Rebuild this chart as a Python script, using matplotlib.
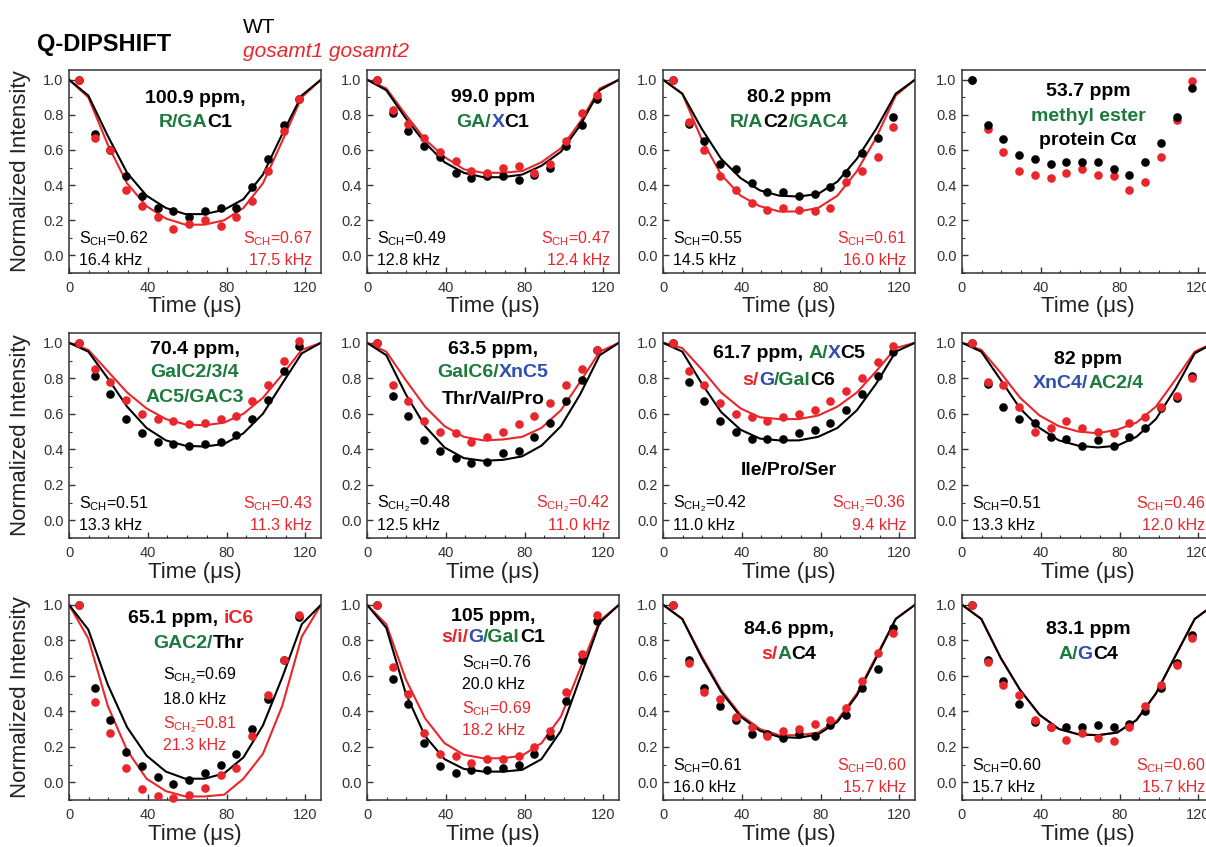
import matplotlib
matplotlib.use('Agg')
import matplotlib.pyplot as plt
from matplotlib.ticker import MultipleLocator, FixedLocator, FormatStrFormatter
from matplotlib.offsetbox import TextArea, HPacker, AnnotationBbox, DrawingArea

plt.rcParams['font.family'] = ['Liberation Sans', 'DejaVu Sans']
plt.rcParams['mathtext.default'] = 'regular'

K = '#000000'
R = '#e8262b'
G = '#1b7a3c'
B = '#2f4eb0'

# time points (us) of the measured data and of the fitted curves
t_pts = [5, 13, 21, 29, 37, 45, 53, 61, 69, 77, 85, 93, 101, 109, 117]
t_fit = [0, 9.8, 19.7, 29.5, 39.4, 49.2, 59.1, 68.9, 78.8, 88.6, 98.5, 108.3, 118.2, 128]

# 100.9 ppm
wt_1009 = [1.00, 0.69, 0.60, 0.45, 0.34, 0.27, 0.25, 0.22, 0.25, 0.27, 0.27, 0.39, 0.55, 0.74, 0.89]
mut_1009 = [1.00, 0.67, 0.60, 0.37, 0.28, 0.22, 0.15, 0.18, 0.20, 0.17, 0.22, 0.31, 0.48, 0.71, 0.89]
wt_fit_1009 = [1.00, 0.91, 0.68, 0.47, 0.34, 0.27, 0.235, 0.235, 0.26, 0.32, 0.46, 0.69, 0.91, 1.00]
mut_fit_1009 = [1.00, 0.90, 0.63, 0.41, 0.28, 0.21, 0.175, 0.175, 0.20, 0.27, 0.41, 0.65, 0.90, 1.00]

# 99.0 ppm
wt_990 = [1.00, 0.81, 0.71, 0.62, 0.56, 0.47, 0.44, 0.45, 0.45, 0.43, 0.46, 0.50, 0.62, 0.74, 0.89]
mut_990 = [1.00, 0.83, 0.75, 0.67, 0.59, 0.54, 0.48, 0.47, 0.50, 0.51, 0.47, 0.52, 0.65, 0.81, 0.91]
wt_fit_990 = [1.00, 0.94, 0.78, 0.64, 0.53, 0.47, 0.445, 0.445, 0.46, 0.51, 0.59, 0.74, 0.94, 1.00]
mut_fit_990 = [1.00, 0.95, 0.80, 0.66, 0.56, 0.49, 0.47, 0.47, 0.48, 0.53, 0.61, 0.76, 0.95, 1.00]

# 80.2 ppm
wt_802 = [1.00, 0.75, 0.65, 0.52, 0.49, 0.41, 0.36, 0.36, 0.34, 0.35, 0.39, 0.47, 0.58, 0.67, 0.79]
mut_802 = [1.00, 0.76, 0.60, 0.45, 0.37, 0.30, 0.26, 0.27, 0.26, 0.25, 0.27, 0.42, 0.48, 0.56, 0.73]
wt_fit_802 = [1.00, 0.92, 0.72, 0.55, 0.44, 0.37, 0.34, 0.335, 0.35, 0.42, 0.55, 0.72, 0.92, 1.00]
mut_fit_802 = [1.00, 0.92, 0.66, 0.46, 0.34, 0.28, 0.25, 0.25, 0.27, 0.34, 0.48, 0.67, 0.91, 1.00]

# 53.7 ppm (no fit)
wt_537 = [1.00, 0.74, 0.66, 0.57, 0.55, 0.52, 0.53, 0.53, 0.53, 0.49, 0.46, 0.53, 0.64, 0.79, 0.95]
mut_537 = [1.00, 0.72, 0.59, 0.48, 0.46, 0.44, 0.47, 0.49, 0.46, 0.45, 0.37, 0.42, 0.56, 0.77, 0.99]

# 70.4 ppm
wt_704 = [1.00, 0.81, 0.71, 0.57, 0.49, 0.44, 0.43, 0.42, 0.43, 0.44, 0.48, 0.57, 0.68, 0.84, 0.98]
mut_704 = [1.00, 0.85, 0.78, 0.68, 0.60, 0.57, 0.56, 0.54, 0.55, 0.57, 0.59, 0.67, 0.76, 0.90, 1.01]
wt_fit_704 = [1.00, 0.95, 0.80, 0.64, 0.52, 0.45, 0.42, 0.415, 0.43, 0.49, 0.60, 0.77, 0.94, 1.00]
mut_fit_704 = [1.00, 0.96, 0.84, 0.72, 0.63, 0.57, 0.54, 0.535, 0.55, 0.60, 0.69, 0.82, 0.96, 1.00]

# 63.5 ppm
wt_635 = [1.00, 0.70, 0.59, 0.45, 0.39, 0.35, 0.32, 0.33, 0.38, 0.39, 0.47, 0.55, 0.67, 0.79, 0.96]
mut_635 = [1.00, 0.76, 0.67, 0.56, 0.50, 0.49, 0.44, 0.47, 0.50, 0.54, 0.59, 0.66, 0.76, 0.85, 0.96]
wt_fit_635 = [1.00, 0.93, 0.71, 0.53, 0.41, 0.35, 0.335, 0.34, 0.36, 0.42, 0.53, 0.71, 0.93, 1.00]
mut_fit_635 = [1.00, 0.95, 0.79, 0.64, 0.53, 0.47, 0.45, 0.455, 0.47, 0.52, 0.62, 0.78, 0.95, 1.00]

# 61.7 ppm
wt_617 = [1.00, 0.78, 0.67, 0.56, 0.50, 0.46, 0.46, 0.46, 0.49, 0.51, 0.55, 0.62, 0.71, 0.81, 0.95]
mut_617 = [1.00, 0.84, 0.76, 0.66, 0.60, 0.58, 0.56, 0.58, 0.60, 0.62, 0.67, 0.73, 0.80, 0.89, 0.98]
wt_fit_617 = [1.00, 0.95, 0.77, 0.61, 0.51, 0.46, 0.45, 0.45, 0.47, 0.52, 0.62, 0.77, 0.95, 1.00]
mut_fit_617 = [1.00, 0.97, 0.85, 0.72, 0.63, 0.58, 0.57, 0.57, 0.59, 0.64, 0.72, 0.84, 0.97, 1.00]

# 82 ppm
wt_82 = [1.00, 0.77, 0.64, 0.57, 0.55, 0.47, 0.46, 0.42, 0.45, 0.42, 0.47, 0.52, 0.63, 0.69, 0.81]
mut_82 = [1.00, 0.78, 0.76, 0.64, 0.50, 0.52, 0.56, 0.52, 0.50, 0.49, 0.55, 0.58, 0.64, 0.70, 0.80]
wt_fit_82 = [1.00, 0.95, 0.79, 0.63, 0.52, 0.45, 0.42, 0.41, 0.42, 0.47, 0.57, 0.74, 0.94, 1.00]
mut_fit_82 = [1.00, 0.96, 0.83, 0.69, 0.59, 0.53, 0.50, 0.49, 0.51, 0.55, 0.64, 0.79, 0.95, 1.00]

# 65.1 ppm
wt_651 = [1.00, 0.53, 0.35, 0.17, 0.09, 0.03, -0.01, 0.01, 0.05, 0.10, 0.16, 0.30, 0.47, 0.69, 0.93]
mut_651 = [1.00, 0.45, 0.28, 0.08, -0.04, -0.08, -0.09, -0.07, -0.03, 0.04, 0.08, 0.26, 0.49, 0.69, 0.94]
wt_fit_651 = [1.00, 0.86, 0.55, 0.31, 0.15, 0.06, 0.02, 0.02, 0.05, 0.14, 0.32, 0.59, 0.89, 1.00]
mut_fit_651 = [1.00, 0.81, 0.43, 0.18, 0.02, -0.05, -0.08, -0.08, -0.07, 0.02, 0.16, 0.43, 0.82, 1.00]

# 105 ppm
wt_105 = [1.00, 0.58, 0.44, 0.22, 0.09, 0.05, 0.07, 0.07, 0.08, 0.10, 0.16, 0.26, 0.46, 0.69, 0.91]
mut_105 = [1.00, 0.65, 0.50, 0.28, 0.16, 0.15, 0.11, 0.13, 0.13, 0.15, 0.20, 0.29, 0.51, 0.72, 0.94]
wt_fit_105 = [1.00, 0.87, 0.50, 0.26, 0.13, 0.075, 0.06, 0.06, 0.07, 0.13, 0.29, 0.59, 0.90, 1.00]
mut_fit_105 = [1.00, 0.89, 0.58, 0.36, 0.22, 0.155, 0.135, 0.135, 0.15, 0.22, 0.37, 0.64, 0.91, 1.00]

# 84.6 ppm
wt_846 = [1.00, 0.69, 0.53, 0.43, 0.35, 0.27, 0.27, 0.25, 0.27, 0.26, 0.32, 0.38, 0.53, 0.64, 0.87]
mut_846 = [1.00, 0.67, 0.51, 0.47, 0.37, 0.31, 0.26, 0.29, 0.30, 0.33, 0.35, 0.42, 0.57, 0.73, 0.84]
wt_fit_846 = [1.00, 0.92, 0.70, 0.51, 0.37, 0.29, 0.255, 0.25, 0.27, 0.34, 0.49, 0.70, 0.92, 1.00]
mut_fit_846 = [1.00, 0.92, 0.71, 0.52, 0.38, 0.30, 0.265, 0.265, 0.28, 0.35, 0.50, 0.71, 0.92, 1.00]

# 83.1 ppm
wt_831 = [1.00, 0.69, 0.57, 0.44, 0.34, 0.31, 0.31, 0.31, 0.32, 0.31, 0.33, 0.40, 0.53, 0.67, 0.83]
mut_831 = [1.00, 0.68, 0.55, 0.49, 0.35, 0.31, 0.24, 0.28, 0.25, 0.23, 0.31, 0.43, 0.55, 0.66, 0.81]
wt_fit_831 = [1.00, 0.92, 0.70, 0.52, 0.38, 0.30, 0.27, 0.265, 0.28, 0.35, 0.50, 0.71, 0.92, 1.00]
mut_fit_831 = [1.00, 0.92, 0.70, 0.52, 0.38, 0.30, 0.27, 0.265, 0.28, 0.35, 0.50, 0.71, 0.92, 1.00]

CH = 'S$_{CH}$'
CH2 = 'S$_{CH_2}$'

panels = [
    dict(wt=wt_1009, mut=mut_1009, wt_fit=wt_fit_1009, mut_fit=mut_fit_1009,
         title=[[('100.9 ppm,', K)], [('R/GA', G), ('C1', K)]], ty=[0.895, 0.757],
         stats=((CH + '=0.62', '16.4 kHz'), (CH + '=0.67', '17.5 kHz'))),
    dict(wt=wt_990, mut=mut_990, wt_fit=wt_fit_990, mut_fit=mut_fit_990,
         title=[[('99.0 ppm', K)], [('GA/', G), ('X', B), ('C1', K)]], ty=[0.897, 0.757],
         stats=((CH + '=0.49', '12.8 kHz'), (CH + '=0.47', '12.4 kHz'))),
    dict(wt=wt_802, mut=mut_802, wt_fit=wt_fit_802, mut_fit=mut_fit_802,
         title=[[('80.2 ppm', K)], [('R/A', G), ('C2', K), ('/GAC4', G)]], ty=[0.897, 0.756],
         stats=((CH + '=0.55', '14.5 kHz'), (CH + '=0.61', '16.0 kHz'))),
    dict(wt=wt_537, mut=mut_537, wt_fit=None, mut_fit=None, black_top=True,
         title=[[('53.7 ppm', K)], [('methyl ester', G)], [('protein C\u03b1', K)]],
         ty=[0.93, 0.79, 0.655], stats=None),
    dict(wt=wt_704, mut=mut_704, wt_fit=wt_fit_704, mut_fit=mut_fit_704,
         title=[[('70.4 ppm,', K)], [('GalC2/3/4', G)], [('AC5/GAC3', G)]], ty=[0.96, 0.83, 0.69],
         stats=((CH + '=0.51', '13.3 kHz'), (CH + '=0.43', '11.3 kHz'))),
    dict(wt=wt_635, mut=mut_635, wt_fit=wt_fit_635, mut_fit=mut_fit_635,
         title=[[('63.5 ppm,', K)], [('GalC6/', G), ('XnC5', B)], [('Thr/Val/Pro', K)]],
         ty=[0.96, 0.83, 0.68],
         stats=((CH2 + '=0.48', '12.5 kHz'), (CH2 + '=0.42', '11.0 kHz'))),
    dict(wt=wt_617, mut=mut_617, wt_fit=wt_fit_617, mut_fit=mut_fit_617,
         title=[[('61.7 ppm,', K), (' ', None), ('A/', G), ('X', B), ('C5', K)],
                [('s/', R), ('G', B), ('/Gal', G), ('C6', K)], [('Ile/Pro/Ser', K)]],
         ty=[0.94, 0.79, 0.28],
         stats=((CH2 + '=0.42', '11.0 kHz'), (CH2 + '=0.36', '9.4 kHz'))),
    dict(wt=wt_82, mut=mut_82, wt_fit=wt_fit_82, mut_fit=mut_fit_82,
         title=[[('82 ppm', K)], [('XnC4/', B), ('AC2/4', G)]], ty=[0.906, 0.77],
         stats=((CH + '=0.51', '13.3 kHz'), (CH + '=0.46', '12.0 kHz'))),
    dict(wt=wt_651, mut=mut_651, wt_fit=wt_fit_651, mut_fit=mut_fit_651,
         title=[[('65.1 ppm,', K), (' ', None), ('iC6', R)], [('GAC2/', G), ('Thr', K)]],
         ty=[0.925, 0.784], tx=[62, 66],
         stats=((CH2 + '=0.69', '18.0 kHz'), (CH2 + '=0.81', '21.3 kHz')),
         stack=(47.5, [0.577, 0.443, 0.306, 0.18])),
    dict(wt=wt_105, mut=mut_105, wt_fit=wt_fit_105, mut_fit=mut_fit_105,
         title=[[('105 ppm,', K)], [('s/i/', R), ('G', B), ('/Gal', G), ('C1', K)]],
         ty=[0.934, 0.816],
         stats=((CH + '=0.76', '20.0 kHz'), (CH + '=0.69', '18.2 kHz')),
         stack=(48.5, [0.647, 0.527, 0.39, 0.268])),
    dict(wt=wt_846, mut=mut_846, wt_fit=wt_fit_846, mut_fit=mut_fit_846,
         title=[[('84.6 ppm,', K)], [('s/', R), ('A', G), ('C4', K)]], ty=[0.86, 0.72],
         stats=((CH + '=0.61', '16.0 kHz'), (CH + '=0.60', '15.7 kHz'))),
    dict(wt=wt_831, mut=mut_831, wt_fit=wt_fit_831, mut_fit=mut_fit_831,
         title=[[('83.1 ppm', K)], [('A/', G), ('G', B), ('C4', K)]], ty=[0.86, 0.72],
         stats=((CH + '=0.60', '15.7 kHz'), (CH + '=0.60', '15.7 kHz'))),
]


def rich_line(ax, x, y, parts, size=14):
    boxes = []
    for s, c in parts:
        if c is None:
            boxes.append(DrawingArea(size * 0.28, 1))
        else:
            boxes.append(TextArea(s, textprops=dict(color=c, fontsize=size, fontweight='bold')))
    pack = HPacker(children=boxes, align='baseline', pad=0, sep=0)
    ab = AnnotationBbox(pack, (x, y), xycoords='data', frameon=False, box_alignment=(0.5, 0.5),
                        pad=0, zorder=6, annotation_clip=False)
    ax.add_artist(ab)


W, H = 1206, 847
fig = plt.figure(figsize=(W / 100, H / 100), dpi=100)

col_left = [69, 367, 663, 962]
row_top = [70, 333, 595]
row_h = [203, 205, 205]
ax_w = 252

for i, p in enumerate(panels):
    r, c = divmod(i, 4)
    ax = fig.add_axes([col_left[c] / W, 1 - (row_top[r] + row_h[r]) / H, ax_w / W, row_h[r] / H])
    ax.set_xlim(0, 128)
    ax.set_ylim(-0.1, 1.055)

    if p['wt_fit'] is not None:
        ax.plot(t_fit, p['mut_fit'], color=R, lw=1.5, zorder=2)
        ax.plot(t_fit, p['wt_fit'], color=K, lw=1.5, zorder=2)
    z_wt, z_mut = (4, 3) if p.get('black_top') else (3, 4)
    ax.plot(t_pts, p['wt'], 'o', color=K, ms=6.2, mec='none', zorder=z_wt, clip_on=False)
    ax.plot(t_pts, p['mut'], 'o', color=R, ms=6.2, mec='none', zorder=z_mut, clip_on=False)

    tx = p.get('tx', [64] * len(p['title']))
    for j, line in enumerate(p['title']):
        rich_line(ax, tx[j] if j < len(tx) else 64, p['ty'][j], line)

    if p['stats'] is not None:
        (w1, w2), (m1, m2) = p['stats']
        if 'stack' in p:
            sx, ys = p['stack']
            for s, yy, col in zip([w1, w2, m1, m2], ys, [K, K, R, R]):
                ax.text(sx, yy, s, color=col, fontsize=11.5, va='baseline', ha='left', zorder=6)
        else:
            ax.text(5, 0.07, w1, color=K, fontsize=11.5, va='baseline', ha='left')
            ax.text(5, -0.056, w2, color=K, fontsize=11.5, va='baseline', ha='left')
            ax.text(123.5, 0.07, m1, color=R, fontsize=11.5, va='baseline', ha='right')
            ax.text(123.5, -0.056, m2, color=R, fontsize=11.5, va='baseline', ha='right')

    ax.xaxis.set_major_locator(FixedLocator([0, 40, 80, 120]))
    ax.xaxis.set_minor_locator(MultipleLocator(10))
    ax.yaxis.set_major_locator(MultipleLocator(0.2))
    ax.yaxis.set_minor_locator(MultipleLocator(0.1))
    ax.yaxis.set_major_formatter(FormatStrFormatter('%.1f'))
    ax.tick_params(which='both', direction='in', top=False, right=False,
                   labelsize=10.5, labelcolor='#333333', color='#333333')
    ax.tick_params(which='major', length=4, width=1)
    ax.tick_params(which='minor', length=2, width=0.8)
    ax.tick_params(axis='x', pad=6)
    ax.tick_params(axis='y', pad=4)
    for sp in ax.spines.values():
        sp.set_color('#333333')
        sp.set_linewidth(1.1)

    ax.set_xlabel('Time (\u03bcs)', fontsize=16, color='#222222')
    ax.xaxis.set_label_coords(0.5, -0.115)
    if c == 0:
        ax.set_ylabel('Normalized Intensity', fontsize=16, color='#222222')
        ax.yaxis.set_label_coords(-0.15, 0.5)

fig.text(37 / W, 1 - 50.7 / H, 'Q-DIPSHIFT', fontsize=17, fontweight='bold', va='baseline')
fig.text(243 / W, 1 - 32.7 / H, 'WT', fontsize=15, va='baseline', color=K)
fig.text(243 / W, 1 - 56.7 / H, 'gosamt1 gosamt2', fontsize=15, style='italic', va='baseline', color=R)

fig.savefig('out.png', dpi=100)
